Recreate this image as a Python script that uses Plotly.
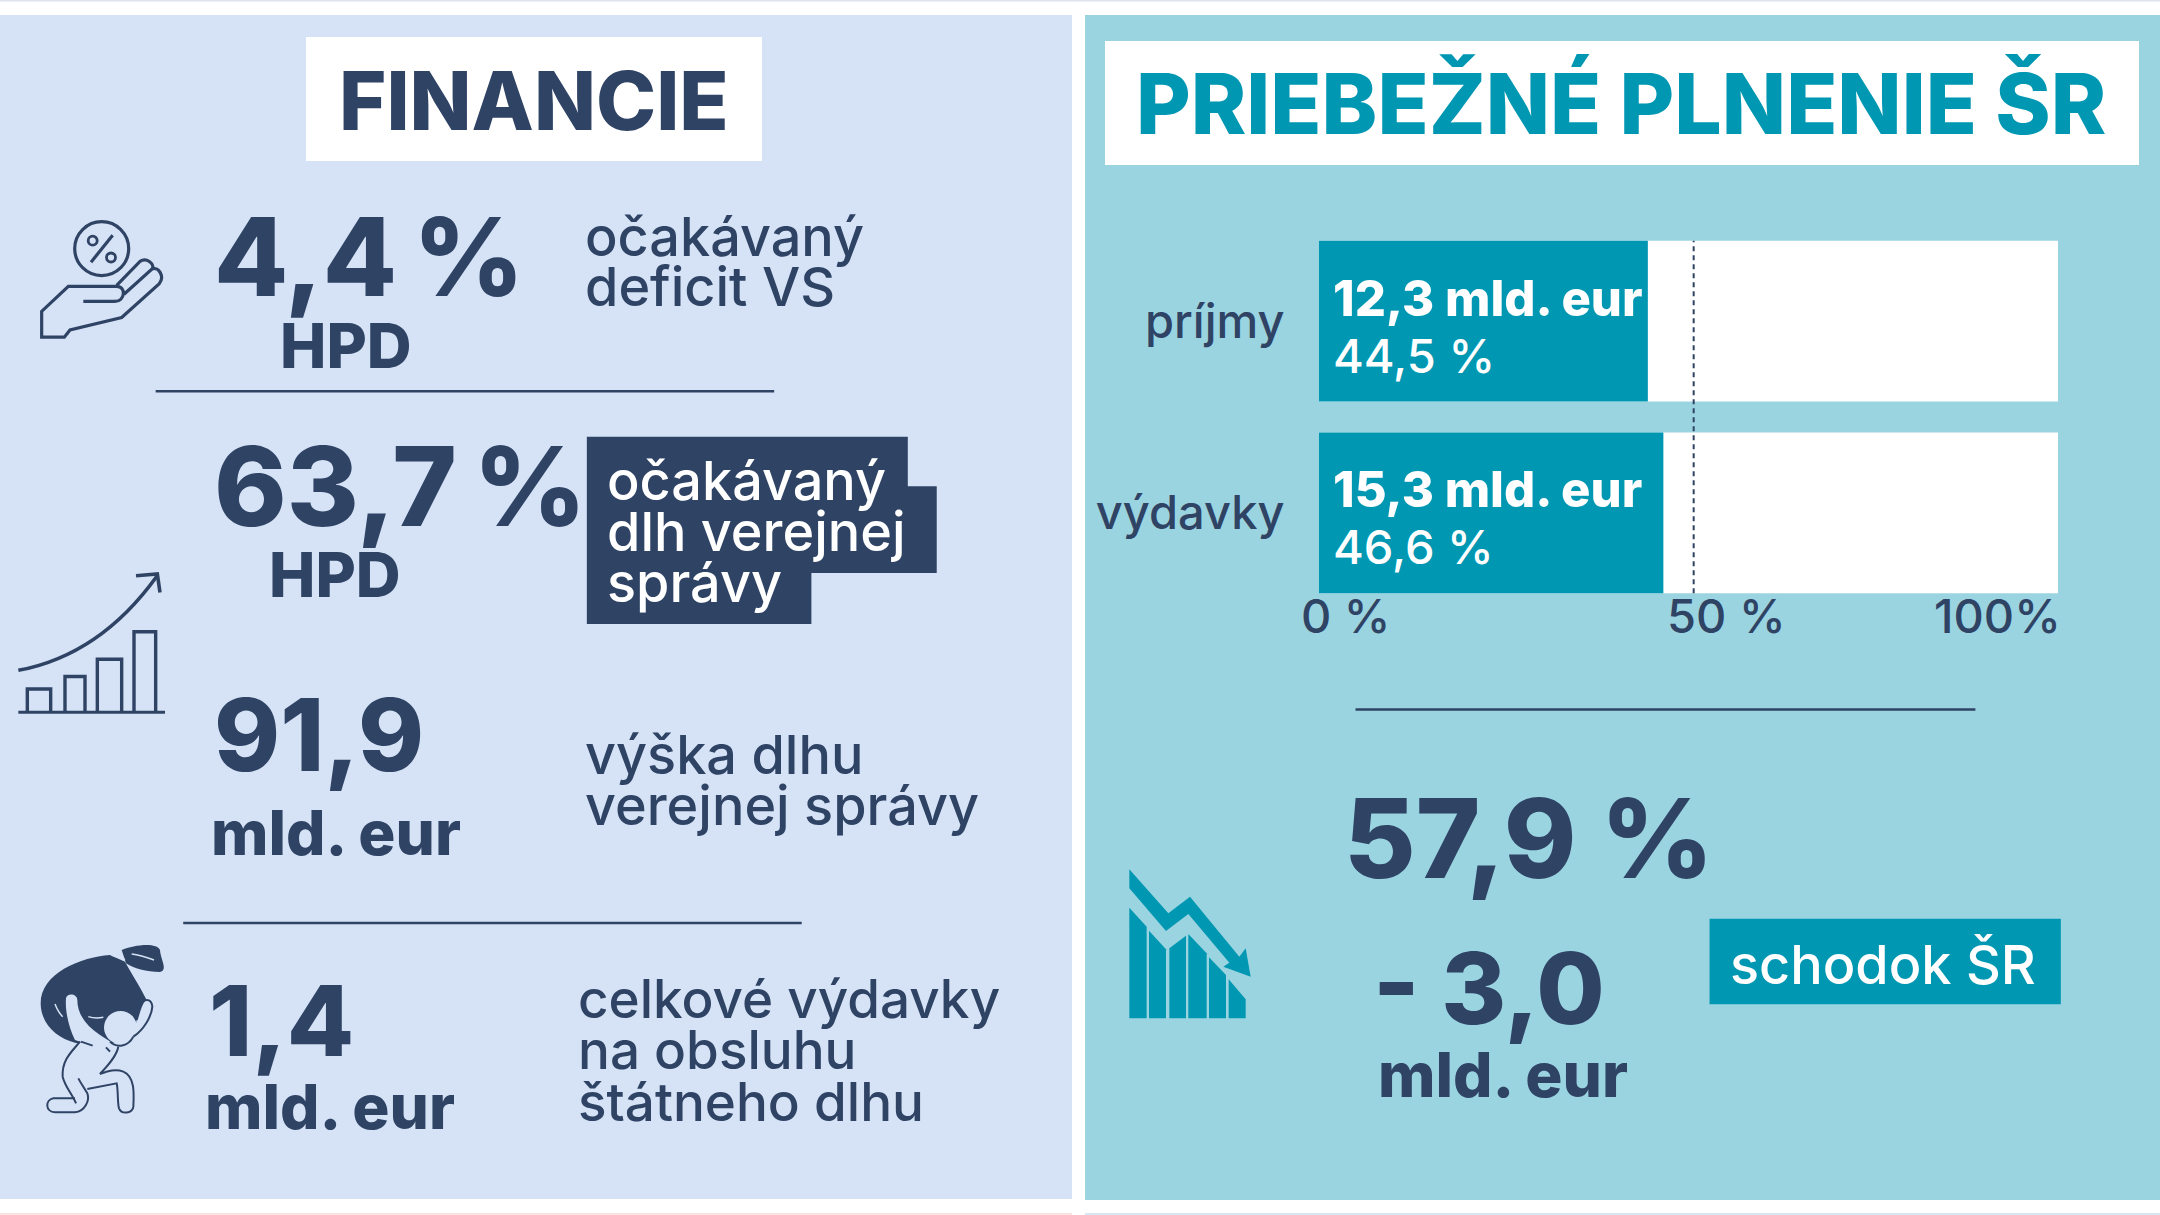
import re
import plotly.graph_objects as go

# ---- data ----
categories = ["príjmy", "výdavky"]
plnenie_pct = [44.5, 46.6]
plnenie_text = ["12,3 mld. eur", "15,3 mld. eur"]
plnenie_pct_text = ["44,5 %", "46,6 %"]
full_scale = [100, 100]
midline_x = 50.7
axis_ticks = [0, 50, 100]
axis_labels = ["0 %", "50 %", "100%"]

W, H = 2160, 1215
S = W / 1568
NAVY = "#2F4365"; TEAL = "#0097B2"; LEFT = "#D6E3F6"; RIGHT = "#9BD4E1"
FONT = "Inter"

def px(x): return x / W
def py(y): return 1 - y / H

def path(d, ox=0, oy=0, sx=1, sy=1):
    out, i = [], 0
    for tok in re.findall(r"[A-Za-z]|-?\d+\.?\d*", d):
        if tok.isalpha():
            out.append(tok); i = 0
        else:
            v = float(tok)
            if i % 2 == 0:
                out.append(f"{px(ox + v * sx):.5f},")
            else:
                out.append(f"{py(oy + v * sy):.5f}")
            i += 1
    return " ".join(out).replace(", ", ",")

shapes, ann = [], []

def rect(x0, y0, x1, y1, color):
    shapes.append(dict(type="rect", xref="paper", yref="paper", x0=px(x0), x1=px(x1),
                       y0=py(y0), y1=py(y1), fillcolor=color, line_width=0, layer="below"))

def shp(d, fill=None, stroke=None, lw=0, **tr):
    s = dict(type="path", xref="paper", yref="paper", path=path(d, **tr), layer="below")
    s["fillcolor"] = fill if fill else "rgba(0,0,0,0)"
    s["line"] = dict(color=stroke if stroke else "rgba(0,0,0,0)", width=lw)
    shapes.append(s)

def circ(cx, cy, r, fill=None, stroke=None, lw=0):
    shapes.append(dict(type="circle", xref="paper", yref="paper", layer="below",
                       x0=px(cx - r), x1=px(cx + r), y0=py(cy - r), y1=py(cy + r),
                       fillcolor=fill if fill else "rgba(0,0,0,0)",
                       line=dict(color=stroke if stroke else "rgba(0,0,0,0)", width=lw)))

def T(x, y, text, size, color=NAVY, weight=500, anchor="left"):
    ann.append(dict(xref="paper", yref="paper", x=px(x * S), y=py(y * S), text=text,
                    xanchor=anchor, yanchor="middle", showarrow=False,
                    font=dict(family=FONT, size=size, color=color, weight=weight)))

# panels
rect(0, 0, 2160, 1.5, "#E0E2EE")
rect(0, 1213, 1072, 1215, "#FBE3E0")
rect(1085, 1213, 2160, 1215, "#D6E8F4")
rect(0, 15, 1072, 1199, LEFT)
rect(1085, 15, 2160, 1200, RIGHT)
rect(306, 37, 762, 161, "white")
rect(1105, 41, 2139, 165, "white")
T(388, 73, "FINANCIE", 81, NAVY, 800, "center")
T(1177, 75, "PRIEBEŽNÉ PLNENIE ŠR", 84, TEAL, 800, "center")

# dividers
for a, b, y, in [(113, 562, 284), (133, 582, 670), (984, 1434, 515)]:
    shp(f"M{a*S} {y*S} L{b*S} {y*S}", stroke=NAVY, lw=2.5)

TH = "\u2009"
# left panel texts
T(154, 186, f"4,4{TH}%", 108, NAVY, 800)
T(251, 251, "HPD", 62, NAVY, 800, "center")
T(423, 172, "očakávaný", 54)
T(423, 208, "deficit VS", 54)
T(154, 353, f"63,7{TH}%", 110, NAVY, 800)
T(243, 417, "HPD", 62, NAVY, 800, "center")
shp(" ".join(f"{c}{x*S} {y*S}" for c, x, y in [("M", 426, 317), ("L", 659, 317), ("L", 659, 353), ("L", 680, 353),
    ("L", 680, 416), ("L", 589, 416), ("L", 589, 453), ("L", 426, 453)]) + " Z", fill=NAVY)
T(439, 349, "očakávaný", 54, "white")
T(439, 386, "dlh verejnej", 54, "white")
T(439, 423, "správy", 54, "white")
T(154, 533, "91,9", 100, NAVY, 800)
T(152, 604, "mld. eur", 62, NAVY, 800)
T(423, 548, "výška dlhu", 54)
T(423, 585, "verejnej správy", 54)
T(150, 741, "1,4", 98, NAVY, 800)
T(147, 803, "mld. eur", 62, NAVY, 800)
T(418, 725, "celkové výdavky", 53)
T(418, 762, "na obsluhu", 53)
T(418, 800, "štátneho dlhu", 53)

# right panel texts
T(974, 608, "57,9 %", 110, NAVY, 800)
T(995, 717, "- 3,0", 99, NAVY, 800)
T(999, 780, "mld. eur", 62, NAVY, 800)
rect(1241 * S, 667 * S, 1496 * S, 729 * S, TEAL)
T(1367, 700, "schodok ŠR", 54, "white", 500, "center")

# icon: hand with percent
hand = dict(ox=0, oy=180, sx=1 / 3, sy=1 / 2.8)
circ(101.7, 248.6, 27, stroke=NAVY, lw=3.2)
circ(92.7, 240.7, 4.5, stroke=NAVY, lw=2.8)
circ(111, 257.5, 4.5, stroke=NAVY, lw=2.8)
shp("M273 230 L338 155", stroke=NAVY, lw=3.2, **hand)
shp("M250 340 L345 340 C375 340 380 298 350 298 L205 298 L125 368 L125 440 L193 440 L210 420 L365 385 "
    "L478 290 C495 270 475 240 455 250 L372 320", stroke=NAVY, lw=3.2, **hand)
shp("M350 295 L420 228 C440 215 462 235 458 248", stroke=NAVY, lw=3.2, **hand)

# icon: rising bars
rise = dict(ox=0, oy=180, sx=1 / 3, sy=1 / 2.8)
shp("M55 1490 L495 1490", stroke=NAVY, lw=3, **rise)
for a, b, t in [(82, 152, 1425), (195, 255, 1390), (292, 365, 1342), (402, 467, 1265)]:
    shp(f"M{a} 1490 L{a} {t} L{b} {t} L{b} 1490", stroke=NAVY, lw=3.4, **rise)
shp("M55 1373 Q300 1330 470 1110", stroke=NAVY, lw=3.6, **rise)
shp("M408 1108 L472 1103 L480 1155", stroke=NAVY, lw=3.6, **rise)

# icon: figure carrying a sack
man = dict(ox=0, oy=900, sx=1 / 3, sy=1 / 3)
shp("M330 165 C240 172 122 220 122 310 C122 370 170 415 225 428 L300 440 L400 410 L440 300 "
    "C420 260 400 230 375 185 Z", fill=NAVY, **man)
shp("M365 150 C400 135 470 125 480 150 C482 180 505 210 480 216 C440 216 400 205 378 190 Z", fill=NAVY, **man)
shp("M322 158 C335 145 365 155 376 180 C355 175 335 170 322 158 Z", fill=LEFT, **man)
shp("M395 162 C420 165 440 172 462 180", stroke=LEFT, lw=1.5, **man)
shp("M165 312 C170 325 178 340 188 350", stroke=LEFT, lw=1.5, **man)
shp("M265 350 C280 355 295 355 310 352", stroke=LEFT, lw=1.5, **man)
circ(120.5, 1027.5, 16.5, fill=LEFT)
shp("M198 295 C200 278 232 280 232 300 C232 340 255 375 300 405 L355 440 L350 500 L300 525 C320 510 345 500 370 515 "
    "C405 530 402 580 400 620 C398 640 365 645 357 625 C352 610 355 570 350 550 L262 567 C270 600 255 635 225 637 L165 637 "
    "C135 635 135 600 160 595 L225 595 C215 580 195 560 188 530 C185 480 215 455 243 425 L270 435 L225 420 C205 380 195 330 198 295 Z",
    fill=LEFT, **man)
shp("M240 425 C215 455 185 480 188 530 C195 560 215 580 228 610", stroke=NAVY, lw=2, **man)
shp("M225 595 L160 595 C135 600 135 635 165 637 L225 637 C255 635 270 600 262 580 C250 560 240 545 235 535", stroke=NAVY, lw=2, **man)
shp("M262 567 L350 550 C355 570 352 610 357 625 C365 645 398 640 400 620 C402 580 405 530 370 515 "
    "C345 505 320 515 300 522 C320 500 350 470 355 440", stroke=NAVY, lw=2, **man)
shp("M400 410 C430 390 455 350 457 320 C455 300 440 295 430 305 C420 320 415 345 410 360", fill=LEFT, stroke=NAVY, lw=2, **man)
shp("M243 425 L278 437", stroke=NAVY, lw=2, **man)
shp("M330 455 L318 442", stroke=NAVY, lw=2, **man)
shp("M330 425 C350 445 385 440 400 410", stroke=NAVY, lw=2, **man)

# icon: falling bars
fall = dict(ox=1100, oy=840, sx=1 / 3, sy=1 / 3)
shp("M88 88 L205 220 L270 170 L418 350 L437 325 L452 410 L370 380 L388 368 L265 222 L198 273 L88 145 Z", fill=TEAL, **fall)
for pts in ["88 203 140 260 140 535 88 535", "147 272 198 328 198 535 147 535", "208 325 258 287 258 535 208 535",
            "265 282 320 340 320 535 265 535", "327 352 378 405 378 535 327 535", "386 418 437 478 437 535 386 535"]:
    n = pts.split()
    d = "M" + " L".join(f"{n[i]} {n[i+1]}" for i in range(0, len(n), 2)) + " Z"
    shp(d, fill=TEAL, **fall)

# 50 % reference line, spanning both bars
shapes.append(dict(type="line", xref="x", yref="y domain", x0=midline_x, x1=midline_x, y0=0.04, y1=0.96,
                   line=dict(color=NAVY, width=2, dash="5px,4px"), layer="above"))

# ---- bar chart ----
fig = go.Figure()
fig.add_bar(y=categories, x=full_scale, orientation="h", marker=dict(color="white", line_width=0),
            hoverinfo="skip", showlegend=False)
fig.add_bar(y=categories, x=plnenie_pct, orientation="h", marker=dict(color=TEAL, line_width=0), showlegend=False)

for c, big, small in zip(categories, plnenie_text, plnenie_pct_text):
    ann.append(dict(xref="x", yref="y", x=0, y=c, text=big, xanchor="left", yanchor="middle", showarrow=False,
                    xshift=12, yshift=23, font=dict(family=FONT, size=49, color="white", weight=800)))
    ann.append(dict(xref="x", yref="y", x=0, y=c, text=small, xanchor="left", yanchor="middle", showarrow=False,
                    xshift=12, yshift=-34, font=dict(family=FONT, size=47, color="white", weight=500)))
for v, lab, xa, sh in zip(axis_ticks, axis_labels, ["left", "left", "right"], [-20, -24, 5]):
    ann.append(dict(xref="x", yref="paper", x=v, y=py(615), text=lab, xanchor=xa, yanchor="middle", showarrow=False,
                    xshift=sh, font=dict(family=FONT, size=47, color=NAVY, weight=500)))

fig.update_layout(
    width=W, height=H, margin=dict(l=0, r=0, t=0, b=0), autosize=False,
    paper_bgcolor="white", plot_bgcolor="rgba(0,0,0,0)", barmode="overlay", bargap=0.162,
    shapes=shapes, annotations=ann, showlegend=False,
    xaxis=dict(domain=[px(1319), px(2058)], range=[0, 100], showgrid=False, zeroline=False,
               showticklabels=False, ticks="", fixedrange=True),
    yaxis=dict(domain=[py(608.7), py(225.3)], autorange="reversed", showgrid=False, zeroline=False,
               ticks="outside", ticklen=24, tickcolor="rgba(0,0,0,0)", showline=False,
               tickfont=dict(family=FONT, size=47, color=NAVY, weight=500), fixedrange=True),
)
fig.write_html("out.html", config=dict(displayModeBar=False),
               post_script="document.body.style.margin='0';")
